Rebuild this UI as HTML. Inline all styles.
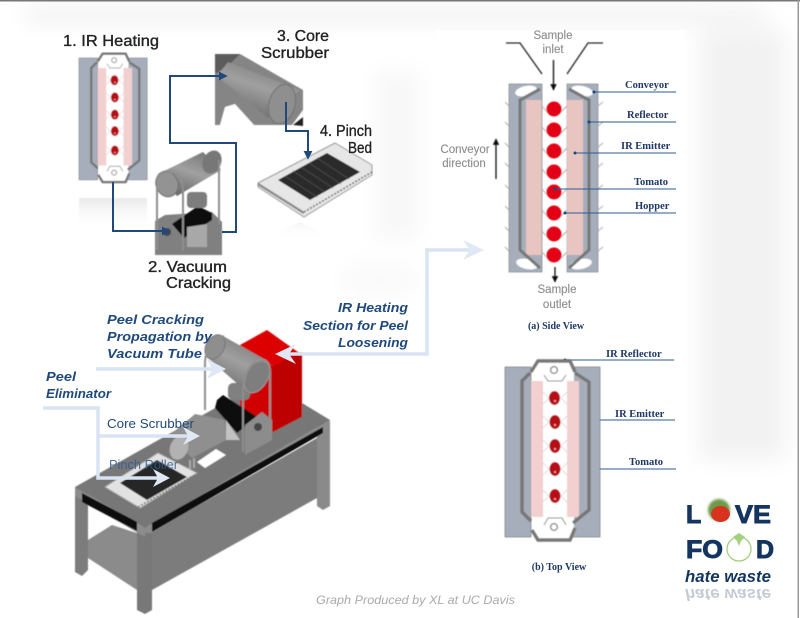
<!DOCTYPE html>
<html>
<head>
<meta charset="utf-8">
<style>
html,body{margin:0;padding:0;background:#fff}
svg{display:block}
text{font-family:"Liberation Sans",sans-serif}
.s{font-family:"Liberation Serif",serif;font-weight:bold;font-size:10.500px;fill:#1f3864}
.h{font-size:15.500px;fill:#222;stroke:#222;stroke-width:.35}
.g{font-size:11.500px;fill:#8f8f8f;text-anchor:middle;stroke:#8f8f8f;stroke-width:.15}
.b{font-weight:bold;font-style:italic;font-size:13px;fill:#1f497d}
.logo{font-weight:bold;font-size:25px;fill:#14355f;stroke:#14355f;stroke-width:.9}
</style>
</head>
<body>
<svg xmlns="http://www.w3.org/2000/svg" width="800" height="618" viewBox="0 0 800 618">
<defs>
<filter id="bg" x="-30%" y="-30%" width="160%" height="160%"><feGaussianBlur stdDeviation="11"/></filter>
<filter id="soft" x="-5%" y="-5%" width="110%" height="110%"><feGaussianBlur stdDeviation="0.5"/></filter>
<filter id="sf2" x="-30%" y="-30%" width="160%" height="160%"><feGaussianBlur stdDeviation="1.2"/></filter>
<linearGradient id="cyl" x1="0.75" y1="0" x2="0.25" y2="1"><stop offset="0" stop-color="#777"/><stop offset=".45" stop-color="#a0a0a0"/><stop offset="1" stop-color="#666"/></linearGradient>
<linearGradient id="fade" x1="0" y1="0" x2="0" y2="1"><stop offset="0" stop-color="#dcdcdc" stop-opacity=".6"/><stop offset="1" stop-color="#fff" stop-opacity="0"/></linearGradient>
<marker id="navy" viewBox="0 0 10 10" refX="8" refY="5" markerWidth="4.500" markerHeight="4.500" orient="auto"><path d="M0 0L10 5L0 10Z" fill="#1f497d"/></marker>
<marker id="blk" viewBox="0 0 10 10" refX="9" refY="5" markerWidth="5" markerHeight="5" orient="auto"><path d="M0 0L10 5L0 10Z" fill="#111"/></marker>

<g id="topv">
<rect x="505" y="367" width="26" height="170" fill="#a6aebb" stroke="#666" stroke-width=".6"/>
<rect x="573" y="367" width="27" height="170" fill="#a6aebb" stroke="#666" stroke-width=".6"/>
<path d="M533 366L540 361H570L574 370V530L570 540H540L533 530Z" fill="#fff"/>
<rect x="531" y="381" width="12" height="136" fill="#f3d0d0"/>
<rect x="567" y="381" width="12" height="136" fill="#f3d0d0"/>
<g fill="none" stroke="#777" stroke-width="3.400">
<path d="M531 372L538 361H570L575 372"/>
<path d="M530 373L522 381V512L531 521"/>
<path d="M575 373L589 382V510L573 523"/>
<path d="M532 530L538 540H570L575 528"/>
</g>
<g fill="none" stroke="#888" stroke-width="1">
<path d="M544 375L548 381H562L566 375"/><path d="M544 525L548 518H562L566 525"/>
<circle cx="554" cy="370" r="3.400" stroke-width="1.400"/><circle cx="554" cy="527" r="3.400" stroke-width="1.400"/>
</g>
<g fill="none" stroke="#ccc" stroke-width=".7">
<path d="M543 392L549 398L543 404M567 392L561 398L567 404M543 416L549 422L543 428M567 416L561 422L567 428M543 440L549 446L543 452M567 440L561 446L567 452M543 463L549 469L543 475M567 463L561 469L567 475M543 490L549 496L543 502M567 490L561 496L567 502"/>
</g>
<g fill="#b70d18">
<ellipse cx="554.500" cy="398" rx="5.500" ry="7"/><ellipse cx="555" cy="422" rx="5.500" ry="7"/><ellipse cx="555" cy="446" rx="5.500" ry="7"/><ellipse cx="555" cy="469" rx="5.500" ry="7"/><ellipse cx="555" cy="496" rx="5.500" ry="7"/>
</g>
<g fill="#f3b0b0">
<circle cx="555" cy="401" r="1"/><circle cx="555" cy="425" r="1"/><circle cx="555" cy="449" r="1"/><circle cx="555" cy="472" r="1"/><circle cx="555" cy="499" r="1"/>
</g>
</g>
</defs>

<!-- background -->
<rect width="800" height="618" fill="#fff"/>
<g filter="url(#bg)">
<rect x="25" y="8" width="740" height="13" fill="#ededed"/>
<rect x="375" y="70" width="45" height="170" fill="#f8f8f8"/>
<rect x="700" y="30" width="85" height="430" fill="#f2f2f2"/>
<rect x="345" y="265" width="70" height="30" fill="#f9f9f9"/>
</g>
<rect x="436" y="30" width="249" height="450" fill="#fff"/>
<rect x="0" y="0" width="800" height="1.500" fill="#777"/>
<rect x="797.500" y="0" width="1.500" height="618" fill="#999"/>

<!-- 1 IR heating -->
<g filter="url(#soft)">
<use href="#topv" transform="translate(79 58) scale(.717) translate(-505 -367)"/>
<rect x="79" y="198" width="68" height="34" fill="url(#fade)"/>
</g>

<!-- 2 vacuum -->
<g filter="url(#soft)">
<path d="M155 221L165 215L212 212L222 222V255H155Z" fill="#808080"/>
<path d="M172 224L198 206L212 213V220L184 238Z" fill="#111"/>
<rect x="187" y="192" width="20" height="16" rx="4" fill="#7d7d7d"/>
<path d="M187 227L207 224V247H187Z" fill="#a8a8a8"/>
<path d="M158 174L203 152L221 170L177 196Z" fill="url(#cyl)"/>
<ellipse cx="212" cy="162" rx="9" ry="12" fill="#777" transform="rotate(25 212 162)"/>
<ellipse cx="167" cy="184" rx="11" ry="13" fill="#939393" stroke="#6f6f6f" transform="rotate(-20 167 184)"/>
<path d="M157 250V180Q158 172 170 172Q183 174 183 190V250M219 160V224" fill="none" stroke="#8e8e8e" stroke-width="2"/>
<circle cx="167" cy="232" r="4" fill="#444"/>
</g>

<!-- 3 core scrubber -->
<g filter="url(#soft)">
<path d="M215 54H240L303 90V110L292 125H215Z" fill="#858585"/>
<path d="M215 54H240L232 62L217 73H215Z" fill="#5c5c5c"/>
<path d="M217 76L228 62L300 90L268 118Z" fill="url(#cyl)"/>
<ellipse cx="282" cy="104" rx="13" ry="20" transform="rotate(15 282 104)" fill="#8f8f8f" stroke="#707070"/>
<path d="M225 107L235 104L254 125H220Z" fill="#fff"/>
<path d="M293 125L303 117V126Z" fill="#222"/>
</g>

<!-- 4 pinch bed -->
<g filter="url(#soft)">
<path d="M258 183L335 143L372 165V175L304 217L258 187Z" fill="#e6e6e6" stroke="#9a9a9a"/>
<path d="M278 180L327 153L360 172L310 200Z" fill="#2b2b2b"/>
<g stroke="#555" stroke-width=".7"><path d="M285 176L317 197M293 171L325 192M301 167L333 188M309 163L341 184M317 158L349 179"/></g>
<path d="M304 212L372 172" stroke="#666" stroke-width="1.500" stroke-dasharray="2 1.500"/>
<path d="M258 184L304 213" stroke="#8a8a8a" stroke-width="2.500"/>
</g>
<path d="M262 240L300 222L335 240Z" fill="url(#fade)" opacity=".5"/>

<!-- dark blue connectors -->
<g fill="none" stroke="#1f497d" stroke-width="2">
<path d="M113 182V231H169" marker-end="url(#navy)"/>
<path d="M222 232H236V143H170V76H226" marker-end="url(#navy)"/>
<path d="M286 102V131H308V158" marker-end="url(#navy)"/>
</g>

<text class="h" x="63" y="46" textLength="96" lengthAdjust="spacingAndGlyphs">1. IR Heating</text>
<text class="h" x="277" y="41" textLength="52" lengthAdjust="spacingAndGlyphs">3. Core</text>
<text class="h" x="261" y="58" textLength="68" lengthAdjust="spacingAndGlyphs">Scrubber</text>
<text class="h" x="320" y="136" textLength="52" lengthAdjust="spacingAndGlyphs">4. Pinch</text>
<text class="h" x="348" y="153" textLength="24" lengthAdjust="spacingAndGlyphs">Bed</text>
<text class="h" x="148" y="272" textLength="79" lengthAdjust="spacingAndGlyphs">2. Vacuum</text>
<text class="h" x="166" y="288" textLength="65" lengthAdjust="spacingAndGlyphs">Cracking</text>

<!-- side view -->
<g filter="url(#soft)">
<rect x="509" y="84" width="33" height="188" fill="#a6aebb" stroke="#777" stroke-width=".6"/>
<rect x="567" y="84" width="31" height="188" fill="#a6aebb" stroke="#777" stroke-width=".6"/>
<ellipse cx="526" cy="91" rx="11" ry="5" fill="#fff" transform="rotate(-12 526 91)"/>
<ellipse cx="527" cy="264" rx="11" ry="5" fill="#fff" transform="rotate(12 527 264)"/>
<ellipse cx="582" cy="91" rx="11" ry="5" fill="#fff" transform="rotate(12 582 91)"/>
<ellipse cx="581" cy="264" rx="11" ry="5" fill="#fff" transform="rotate(-12 581 264)"/>
<rect x="526" y="100" width="15.500" height="155" fill="#e9c5c2"/>
<rect x="567" y="100" width="16" height="155" fill="#e9c5c2"/>
<g fill="none" stroke="#777" stroke-width="3">
<path d="M540 89L520 100V250L540 268"/>
<path d="M569 89L589 100V250L569 268"/>
</g>
<g stroke="#aaa" stroke-width=".9">
<path d="M505 102L509 106M505 122L509 126M505 143L509 147M505 163L509 167M505 185L509 189M505 206L509 210M505 227L509 231M505 247L509 251"/>
<path d="M603 102L598 106M603 122L598 126M603 143L598 147M603 163L598 167M603 185L598 189M603 206L598 210M603 227L598 231M603 247L598 251"/>
<path d="M542 106L548 113M542 127L548 134M542 148L548 155M542 169L548 176M542 189L548 196M542 210L548 217M542 231L548 238M542 252L548 259"/>
<path d="M567 106L560 113M567 127L560 134M567 148L560 155M567 169L560 176M567 189L560 196M567 210L560 217M567 231L560 238M567 252L560 259"/>
</g>
<g fill="#e30613">
<circle cx="554" cy="109" r="7.500"/><circle cx="554" cy="130" r="7.500"/><circle cx="554" cy="151" r="7.500"/><circle cx="554" cy="172" r="7.500"/><circle cx="554" cy="192" r="7.500"/><circle cx="554" cy="213" r="7.500"/><circle cx="554" cy="234" r="7.500"/><circle cx="554" cy="255" r="7.500"/>
</g>
<g fill="none" stroke="#222" stroke-width="1.300">
<path d="M506 43H520L542 74"/><path d="M603 43H588L567 74"/>
</g>
<path d="M553.500 60V90" stroke="#111" stroke-width="1.300" marker-end="url(#blk)"/>
<path d="M555 267V282" stroke="#111" stroke-width="1.300" marker-end="url(#blk)"/>
<path d="M496 179V139" stroke="#111" stroke-width="1.300" marker-end="url(#blk)"/>
</g>

<text class="g" x="553" y="39">Sample</text>
<text class="g" x="553" y="53">inlet</text>
<text class="g" x="465" y="153">Conveyor</text>
<text class="g" x="464" y="167">direction</text>
<text class="g" x="557" y="293">Sample</text>
<text class="g" x="557" y="308">outlet</text>
<text class="s" x="556" y="329" text-anchor="middle" style="font-size:10px">(a) Side View</text>

<g fill="none" stroke="#2e5a92" stroke-width="1">
<path d="M594 92H676M589 122H676M575 153H676M555 189H676M565 213H676"/>
<path d="M565 360H674M567 420H675M556 469H676"/>
</g>
<g fill="#1f497d">
<circle cx="594" cy="92" r="1.500"/><circle cx="589" cy="122" r="1.500"/><circle cx="575" cy="153" r="1.500"/><circle cx="555" cy="189" r="1.500"/><circle cx="565" cy="213" r="1.500"/>
<circle cx="565" cy="360" r="1.500"/><circle cx="567" cy="420" r="1.500"/><circle cx="556" cy="469" r="1.500"/>
</g>
<text class="s" x="625" y="88">Conveyor</text>
<text class="s" x="627" y="118">Reflector</text>
<text class="s" x="621" y="149">IR Emitter</text>
<text class="s" x="634" y="185">Tomato</text>
<text class="s" x="635" y="209">Hopper</text>
<text class="s" x="606" y="357">IR Reflector</text>
<text class="s" x="615" y="417">IR Emitter</text>
<text class="s" x="629" y="465">Tomato</text>

<!-- top view -->
<g filter="url(#soft)"><use href="#topv"/></g>
<text class="s" x="559" y="570" text-anchor="middle" style="font-size:10px">(b) Top View</text>

<!-- big machine -->
<g filter="url(#soft)">
<!-- shelf and legs -->
<path d="M88 540L112 525L137 533V590L88 558Z" fill="#8b8b8b"/>
<path d="M75 487H88V570L82 576L75 572Z" fill="#7b7b7b"/>
<path d="M137 527H152V610L145 614L137 610Z" fill="#787878"/>
<path d="M152 532L317 438V498L152 590Z" fill="#7c7c7c"/>
<path d="M317 423H330V506L323 510L317 506Z" fill="#8a8a8a"/>
<!-- top -->
<path d="M75 487L233 398L302 403L330 420L145 528Z" fill="#777"/>
<path d="M75 487L145 528V537L75 496Z" fill="#8c8c8c"/>
<path d="M145 528L330 420V428L152 533H145Z" fill="#8c8c8c"/>
<path d="M82 493L137 522V531L82 502Z" fill="#0a0a0a"/>
<path d="M152 523L323 427V433L152 532Z" fill="#0a0a0a"/>
<path d="M197 462L216 449L226 455L205 468Z" fill="#fff"/>

<!-- red box -->
<path d="M240 345L273 366V432L240 410Z" fill="#d00000"/>
<path d="M240 345L267 330L302 355L273 366Z" fill="#dd0000"/>
<path d="M273 366L302 352V417L273 432Z" fill="#bd0000"/>

<!-- neck, block, plate -->
<path d="M217 400L223 395L257 417L237 433L215 408Z" fill="#111"/>
<rect x="228" y="383" width="22" height="17" rx="5" fill="#808080"/>
<path d="M245 425L262 412L272 420V440L245 455Z" fill="#8c8c8c"/>
<circle cx="258" cy="427" r="4" fill="#444"/>
<!-- vacuum tube -->
<path d="M223 336L266 360L248 393L208 358Z" fill="url(#cyl)"/>
<ellipse cx="215" cy="347" rx="9" ry="13" fill="#8e8e8e" stroke="#777" transform="rotate(28 215 347)"/>
<ellipse cx="257" cy="376" rx="11" ry="18" fill="#7e7e7e" stroke="#9a9a9a" transform="rotate(28 257 376)"/>
<path d="M205 410V362Q206 342 224 336M243 452V390Q246 361 262 361Q270 361 270 372V433" fill="none" stroke="#8f8f8f" stroke-width="2"/>

<!-- scrubber -->
<path d="M170 435L195 414L225 420L226 440L192 458Z" fill="#8f8f8f"/>
<path d="M226 420L240 440H226Z" fill="#c2c2c2"/>
<ellipse cx="179" cy="448" rx="9" ry="12" fill="#b2b2b2" transform="rotate(20 179 448)"/>
<path d="M190 460V470M194 458V468" stroke="#aaa" stroke-width="2"/>

<!-- pinch roller bed -->
<path d="M105 487L158 453L197 473L140 508Z" fill="#e2e2e2" stroke="#aaa" stroke-width=".8"/>
<path d="M120 483L157 460L187 477L147 500Z" fill="#262626"/>
<path d="M138 507L196 474" stroke="#777" stroke-width="1.500" stroke-dasharray="2 1.500"/>
</g>

<!-- light arrows -->
<g fill="none" stroke="#d9e4f2" stroke-width="3.500">
<path d="M279 354H427V250H478"/>
<path d="M96 369H222"/>
<path d="M43 408H98V478H166"/>
<path d="M98 436H196"/>
</g>
<g fill="#dfe8f4">
<path d="M275 354L296 344L289 354L296 364Z"/>
<path d="M484 250L463 240L470 250L463 260Z"/>
<path d="M226 369L207 359L212 369L207 379Z"/>
<path d="M200 436L183 427L188 436L183 445Z"/>
<path d="M170 478L153 469L158 478L153 487Z"/>
</g>

<text class="b" x="107" y="324" textLength="97" lengthAdjust="spacingAndGlyphs">Peel Cracking</text>
<text class="b" x="107" y="341" textLength="105" lengthAdjust="spacingAndGlyphs">Propagation by</text>
<text class="b" x="107" y="358" textLength="95" lengthAdjust="spacingAndGlyphs">Vacuum Tube</text>
<text class="b" x="46" y="381" textLength="30" lengthAdjust="spacingAndGlyphs">Peel</text>
<text class="b" x="46" y="398" textLength="65" lengthAdjust="spacingAndGlyphs">Eliminator</text>
<text class="b" x="338" y="312" textLength="70" lengthAdjust="spacingAndGlyphs">IR Heating</text>
<text class="b" x="303" y="330" textLength="105" lengthAdjust="spacingAndGlyphs">Section for Peel</text>
<text class="b" x="338" y="347" textLength="70" lengthAdjust="spacingAndGlyphs">Loosening</text>
<text x="107" y="428" font-size="13" fill="#1f497d" textLength="87" lengthAdjust="spacingAndGlyphs">Core Scrubber</text>
<text x="109" y="469" font-size="12.500" fill="#2f5c94" opacity=".85" textLength="69" lengthAdjust="spacingAndGlyphs">Pinch Roller</text>
<text x="316" y="604" font-size="12" font-style="italic" fill="#aaa" textLength="199" lengthAdjust="spacingAndGlyphs">Graph Produced by XL at UC Davis</text>

<!-- logo -->
<text class="logo" x="686" y="523">L</text>
<text class="logo" x="735" y="523" textLength="36" lengthAdjust="spacingAndGlyphs">VE</text>
<text class="logo" x="686" y="558" textLength="37" lengthAdjust="spacingAndGlyphs">FO</text>
<text class="logo" x="756" y="558">D</text>
<circle cx="719" cy="510" r="11" fill="#6d9a4a" filter="url(#sf2)"/>
<ellipse cx="720.500" cy="514" rx="9.500" ry="8" fill="#d8331f"/>
<circle cx="739" cy="549" r="12" fill="#fff" stroke="#a3d07e" stroke-width="1.300"/>
<path d="M733 537L739 533L745 537L741 541L739 546L737 541Z" fill="#a3d07e"/>
<text x="685" y="582" font-size="17" font-weight="bold" font-style="italic" fill="#14355f" textLength="86" lengthAdjust="spacingAndGlyphs">hate waste</text>
<text x="0" y="0" font-size="17" font-weight="bold" font-style="italic" fill="#14355f" opacity=".25" textLength="86" lengthAdjust="spacingAndGlyphs" transform="translate(685 589) scale(1 -1)">hate waste</text>
</svg>
</body>
</html>
